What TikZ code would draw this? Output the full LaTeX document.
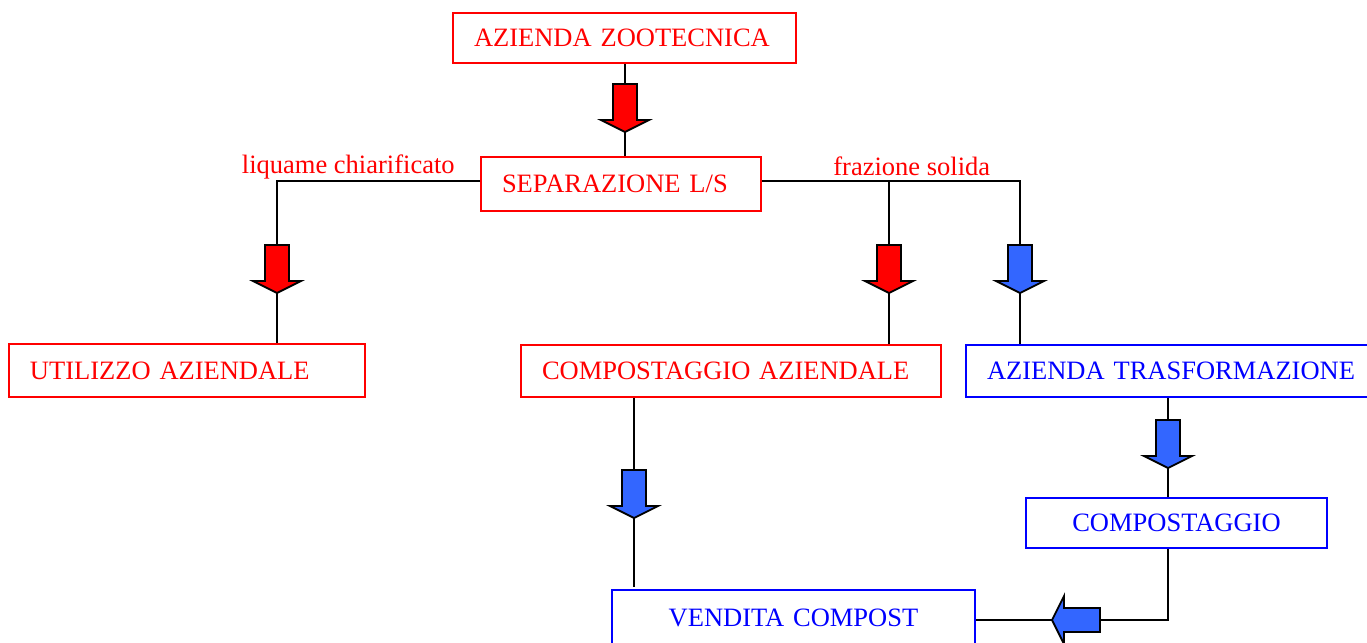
\documentclass[tikz,border=0pt]{standalone}
\usepackage{fontspec}
\setmainfont{Liberation Serif}
\usetikzlibrary{positioning}
\definecolor{arrowblue}{RGB}{51,102,255}
\tikzset{
    x=0.5pt, y=-0.5pt, % one unit is one pixel of the sketch, y grows downwards
    every node/.style={font=\fontsize{13.25}{16}\selectfont},
    redbox/.style={draw=red, text=red, line width=1pt, inner xsep=10.5pt, align=left, text height=8.8pt, text depth=0pt}, % red steps
    bluebox/.style={draw=blue, text=blue, line width=1pt, inner xsep=10.5pt, align=left, text height=8.8pt, text depth=0pt}, % blue steps
    lbl/.style={text=red, inner sep=0pt}, % text on the lines
    link/.style={line width=1pt}, % plain black lines
    pics/downarrow/.style={code={
        \draw[line width=0.9pt, fill=#1] (-12,-24) -- (12,-24) -- (12,12) -- (24,12) -- (0,24) -- (-24,12) -- (-12,12) -- cycle;
    }},
}

\begin{document}
\begin{tikzpicture}
            \useasboundingbox (0,0) rectangle (1367,643);
            \node[redbox, text width=150.5pt, minimum height=25pt] (zoo) at (624.5,38) {AZIENDA ZOOTECNICA};
            \node[redbox, text width=119pt, minimum height=27pt] (sep) at (621,184) {SEPARAZIONE L/S};
            \node[redbox, text width=157pt, minimum height=26.5pt] (util) at (187,370.5) {UTILIZZO AZIENDALE};
            \node[redbox, text width=189pt, minimum height=26pt] (compaz) at (731,371) {COMPOSTAGGIO AZIENDALE};
            \node[bluebox, text width=200pt, minimum height=26pt] (aztr) at (1187,371) {AZIENDA TRASFORMAZIONE};
            \node[bluebox, text width=129.5pt, minimum height=25pt, align=center] (comp) at (1176.5,523) {COMPOSTAGGIO};
            \node[bluebox, text width=160.5pt, minimum height=28pt, align=center] (vend) at (793.5,618) {VENDITA COMPOST};
            \node[lbl, anchor=base east] (liq) at (455,173) {liquame chiarificato};
            \node[lbl, anchor=base west] (fraz) at (833,175) {frazione solida};
            % connections
            \draw[link] (zoo.south) -- (zoo.south |- sep.north);
            \draw[link] ([yshift=1.5pt]sep.west) -| ([xshift=45pt]util.north);
            \draw[link] ([yshift=1.5pt]sep.east) -| ([xshift=-83.5pt]aztr.north);
            \draw[link] ([xshift=79pt]compaz.north) -- ([xshift=79pt,yshift=1.5pt]compaz.north |- sep.east);
            \draw[link] ([xshift=-48.5pt]compaz.south) -- ([xshift=-48.5pt,yshift=1pt]compaz.south |- vend.north);
            \draw[link] ([xshift=-9.5pt]aztr.south) -- ([xshift=-9.5pt]aztr.south |- comp.north);
            \draw[link] ([xshift=-4.25pt]comp.south) |- ([yshift=-1pt]vend.east);
            % block arrows
            \pic at (625,108) {downarrow=red};
            \pic at (277,269) {downarrow=red};
            \pic at (889,269) {downarrow=red};
            \pic at (1020,269) {downarrow=arrowblue};
            \pic at (634,494) {downarrow=arrowblue};
            \pic at (1168,444) {downarrow=arrowblue};
            \pic[rotate=-90] at (1076,620) {downarrow=arrowblue};
        \end{tikzpicture}
\end{document}
